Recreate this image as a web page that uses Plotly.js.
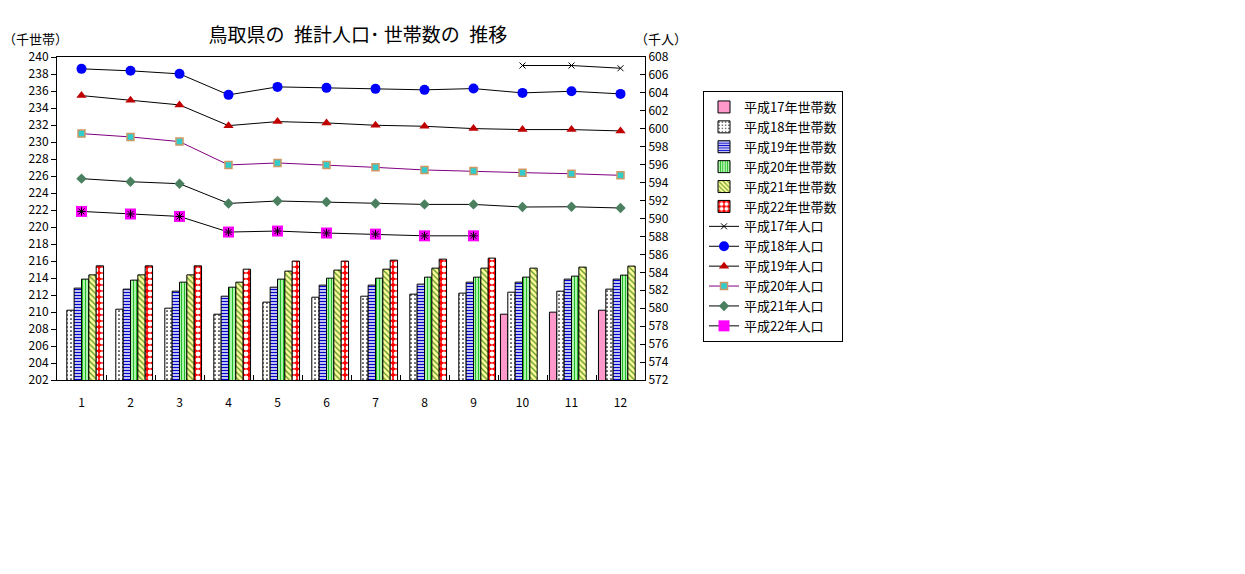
<!DOCTYPE html>
<html><head><meta charset="utf-8">
<script src="https://cdn.plot.ly/plotly-3.0.1.min.js"></script>
<style>html,body{margin:0;padding:0;background:#fff;}#chart{width:1245px;height:574px;}</style>
</head><body><div id="chart"></div>
<script>
const months = ['1','2','3','4','5','6','7','8','9','10','11','12'];
const hh17 = [null,null,null,null,null,null,null,null,null,209.74,209.98,210.21];
const hh18 = [210.21,210.33,210.45,209.74,211.16,211.74,211.86,212.10,212.22,212.33,212.45,212.69];
const hh19 = [212.81,212.69,212.45,211.86,212.92,213.16,213.16,213.28,213.51,213.51,213.87,213.87];
const hh20 = [213.87,213.75,213.51,212.92,213.87,213.98,213.98,214.10,214.10,214.10,214.22,214.34];
const hh21 = [214.37,214.37,214.37,213.51,214.81,214.93,215.04,215.16,215.16,215.16,215.28,215.40];
const hh22 = [215.43,215.43,215.43,215.04,215.99,215.99,216.10,216.22,216.34,null,null,null];
const pop17 = [null,null,null,null,null,null,null,null,null,607.05,607.05,606.75];
const pop18 = [606.68,606.46,606.12,603.78,604.67,604.56,604.45,604.34,604.48,604.00,604.18,603.89];
const pop19 = [603.70,603.18,602.66,600.35,600.80,600.65,600.39,600.28,600.02,599.91,599.91,599.76];
const pop20 = [599.46,599.09,598.57,595.97,596.19,595.97,595.70,595.41,595.30,595.11,594.99,594.81];
const pop21 = [594.44,594.10,593.88,591.68,591.95,591.84,591.68,591.57,591.57,591.28,591.31,591.17];
const pop22 = [590.79,590.50,590.23,588.49,588.60,588.38,588.26,588.07,588.07,null,null,null];
const hhNames = ['平成17年世帯数','平成18年世帯数','平成19年世帯数','平成20年世帯数','平成21年世帯数','平成22年世帯数'];
const popNames = ['平成17年人口','平成18年人口','平成19年人口','平成20年人口','平成21年人口','平成22年人口'];

const FONT = '"Noto Sans CJK JP", "Liberation Sans", sans-serif';
const barStyles = [
  {color:'#ff99cc', pattern:{shape:''}},
  {color:'#ffffff', pattern:{shape:'.', fgcolor:'#000000', bgcolor:'#ffffff', size:4, solidity:0.15}},
  {color:'#ffffff', pattern:{shape:'-', fgcolor:'#0000cc', bgcolor:'#ffffff', size:3, solidity:0.5}},
  {color:'#ccffcc', pattern:{shape:'|', fgcolor:'#22bb22', bgcolor:'#ccffcc', size:3, solidity:0.45}},
  {color:'#ffff99', pattern:{shape:'\\', fgcolor:'#669933', bgcolor:'#ffff99', size:4, solidity:0.35}},
  {color:'#ff0000', pattern:{shape:'.', fgcolor:'#ffffff', bgcolor:'#ff0000', size:6, solidity:0.5}}
];
const hhData = [hh17,hh18,hh19,hh20,hh21,hh22];
const traces = [];
hhData.forEach((d,i)=>{
  traces.push({type:'bar', x:months, y:d, name:hhNames[i], yaxis:'y',
    marker:{color:barStyles[i].color, pattern:barStyles[i].pattern, line:{color:'#000',width:1}},
    hoverinfo:'y'});
});
const popData = [pop17,pop18,pop19,pop20,pop21,pop22];
const lineStyles = [
  {line:'#000000', marker:{symbol:'x-thin-open', size:6, color:'#000', line:{color:'#000',width:1}}},
  {line:'#000000', marker:{symbol:'circle', size:10, color:'#0000ff', line:{width:0}}},
  {line:'#000000', marker:{symbol:'triangle-up', size:9, color:'#c00000', line:{width:0}}},
  {line:'#800080', marker:{symbol:'square', size:7, color:'#33cccc', line:{color:'#cc9966',width:1.5}}},
  {line:'#000000', marker:{symbol:'diamond', size:8, color:'#4a8060', line:{width:0}}},
  {line:'#000000', marker:{symbol:'square', size:11, color:'#ff00ff', line:{width:0}}}
];
popData.forEach((d,i)=>{
  traces.push({type:'scatter', mode:'lines+markers', x:months, y:d, name:popNames[i], yaxis:'y2',
    line:{color:lineStyles[i].line, width:1}, marker:lineStyles[i].marker, connectgaps:false});
});
// asterisk overlay for 平成22年人口 markers
traces.push({type:'scatter', mode:'markers', x:months, y:pop22, yaxis:'y2', showlegend:false,
  marker:{symbol:'asterisk-open', size:7, color:'#000', line:{color:'#000',width:1}}, hoverinfo:'skip'});

const layout = {
  width:1245, height:574,
  margin:{l:57, r:600, t:57, b:194},
  paper_bgcolor:'#ffffff', plot_bgcolor:'#ffffff',
  font:{family:FONT, size:12, color:'#000'},
  title:{text:'鳥取県の\u2002推計人口･ 世帯数の\u2002推移', font:{family:FONT, size:19, color:'#000'},
    x:358/1245, xanchor:'center', xref:'container', y:1-35/574, yanchor:'middle', yref:'container'},
  barmode:'group', bargap:0.1, bargroupgap:0,
  showlegend:true,
  legend:{x:(703-57)/588, xanchor:'left', y:(380-91)/323, yanchor:'top',
    bordercolor:'#000', borderwidth:1, bgcolor:'#fff', font:{family:FONT, size:13},
    tracegroupgap:0, itemwidth:30, traceorder:'normal'},
  xaxis:{type:'category', range:[-0.5,11.5], autorange:false, showline:true, linecolor:'#000', linewidth:1, mirror:true,
    ticks:'inside', tickson:'boundaries', ticklen:5, tickcolor:'#000', showgrid:false,
    ticklabelstandoff:12, tickfont:{family:FONT, size:12}, fixedrange:true},
  yaxis:{range:[202,240], dtick:2, tick0:202, showline:true, linecolor:'#000', linewidth:1,
    ticks:'outside', ticklen:5, tickcolor:'#000', showgrid:false, zeroline:false,
    tickfont:{family:FONT, size:12}},
  yaxis2:{range:[572,608], dtick:2, tick0:572, overlaying:'y', side:'right', showline:true,
    linecolor:'#000', linewidth:1, ticks:'inside', ticklen:5, tickcolor:'#000', showgrid:false,
    zeroline:false, tickfont:{family:FONT, size:12}},
  annotations:[
    {text:'（千世帯）', xref:'paper', yref:'paper', x:(35-57)/588, y:(380-38)/323, xanchor:'center', yanchor:'middle', showarrow:false, font:{family:FONT, size:13}},
    {text:'（千人）', xref:'paper', yref:'paper', x:(661-57)/588, y:(380-38)/323, xanchor:'center', yanchor:'middle', showarrow:false, font:{family:FONT, size:13}}
  ]
};
Plotly.newPlot('chart', traces, layout, {displayModeBar:false, staticPlot:true});
</script></body></html>
